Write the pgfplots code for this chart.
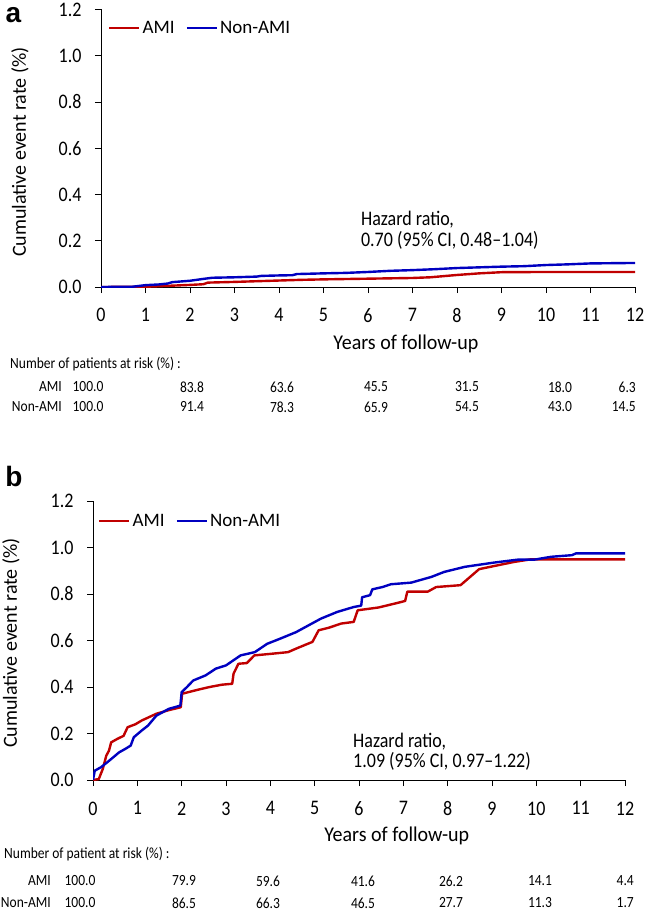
\documentclass[border=0pt]{standalone}
\usepackage{fontspec}
\setmainfont{Carlito}
\newfontfamily\panelfont{Liberation Sans}
\usepackage{pgfplots}
\pgfplotsset{compat=1.18}
\definecolor{amired}{RGB}{192,0,0}
\definecolor{nonblue}{RGB}{0,0,192}

\pgfplotsset{
  km/.style={
    scale only axis,
    xmin=0, xmax=12, ymin=0, ymax=1.2,
    axis x line*=bottom, axis y line*=left,
    xtick={0,1,2,3,4,5,6,7,8,9,10,11,12},
    ytick={0,0.2,0.4,0.6,0.8,1.0,1.2},
    yticklabel style={/pgf/number format/fixed, /pgf/number format/fixed zerofill,
      /pgf/number format/precision=1, xshift=-10pt},
    xticklabel style={yshift=-10pt},
    /pgf/number format/assume math mode=true,
    tick align=outside, major tick length=6pt,
    tick style={black, line width=0.8pt},
    axis line style={black, line width=0.9pt},
    tick label style={font=\fontsize{18}{18}\selectfont, yscale=1.15},
    label style={font=\fontsize{20}{20}\selectfont},
    legend style={draw=none, fill=none, inner sep=0pt, legend columns=-1,
      font=\fontsize{19}{19}\selectfont, anchor=west},
    legend image code/.code={\draw[#1] (0pt,0pt) -- (30pt,0pt);},
    every axis plot/.append style={line width=2.4pt, line join=round},
  }
}
\newcommand{\tabfont}{\fontsize{13.5}{13.5}\selectfont}

\begin{document}
\begin{tikzpicture}
\useasboundingbox (0pt,0pt) rectangle (645pt,-912pt);

% ---------- panel a ----------
\node[font=\panelfont\bfseries\fontsize{28}{28}\selectfont] at (13.5pt,-15pt) {a};
\begin{axis}[km,
    at={(101pt,-287pt)}, anchor=south west,
    width=534pt, height=277.5pt,
    xlabel={Years of follow-up},
    ylabel={Cumulative event rate (\%)},
    xlabel style={at={(axis description cs:0.571,-0.205)}, anchor=center, yscale=1.05},
    ylabel style={at={(axis description cs:-0.152,0.486)}, anchor=center, rotate=0},
    legend style={at={(axis cs:0.157,1.12)}},
  ]
  \addplot[amired] coordinates {
    (0,0) (1,0.001) (1.5,0.005) (2,0.009) (2.3,0.012) (2.4,0.019) (3,0.022)
    (3.5,0.025) (4,0.028) (4.5,0.031) (5,0.033) (6,0.036) (7,0.039) (7.4,0.042)
    (8,0.052) (8.5,0.059) (9,0.064) (10,0.065) (12,0.065)};
  \addlegendentry{AMI\hspace*{9pt}\null}
  \addplot[nonblue] coordinates {
    (0,0) (0.7,0.001) (1,0.008) (1.3,0.011) (1.5,0.015) (1.6,0.021) (2,0.027)
    (2.3,0.035) (2.5,0.040) (3,0.042) (3.5,0.045) (3.6,0.048) (4,0.050) (4.3,0.051)
    (4.4,0.056) (5,0.059) (5.5,0.061) (6,0.065) (6.5,0.070) (7,0.073) (7.5,0.077)
    (8,0.082) (8.5,0.085) (9,0.088) (9.5,0.090) (10,0.095) (10.5,0.098) (11,0.102)
    (12,0.104)};
  \addlegendentry{Non-AMI}
  \node[anchor=west, align=left, inner sep=0pt, yscale=1.15,
        font=\fontsize{18}{18.3}\selectfont]
    at (axis cs:5.84,0.244) {Hazard ratio,\\0.70 (95\% CI, 0.48--1.04)};
\end{axis}

\begin{scope}[every node/.style={font=\tabfont, inner sep=0pt, yscale=1.15}]
  \node[anchor=west] at (10pt,-364pt) {Number of patients at risk (\%) :};
  \node[anchor=east] at (62pt,-387pt) {AMI};
  \node[anchor=east] at (62pt,-407pt) {Non-AMI};
  \foreach \x/\a/\b in {88/100.0/100.0, 192/83.8/91.4, 282/63.6/78.3,
      376/45.5/65.9, 467/31.5/54.5, 560/18.0/43.0} {
    \node at (\x pt,-387pt) {\a};
    \node at (\x pt,-407pt) {\b};
  }
  \node[anchor=east] at (636pt,-387pt) {6.3};
  \node[anchor=east] at (636pt,-407pt) {14.5};
\end{scope}

% ---------- panel b ----------
\node[font=\panelfont\bfseries\fontsize{28}{28}\selectfont] at (14pt,-476pt) {b};
\begin{axis}[km,
    at={(93pt,-780pt)}, anchor=south west,
    width=532pt, height=279pt,
    xlabel={Years of follow-up},
    ylabel={Cumulative event rate (\%)},
    xlabel style={at={(axis description cs:0.571,-0.2007)}, anchor=center, yscale=1.05},
    ylabel style={at={(axis description cs:-0.154,0.491)}, anchor=center, rotate=0},
    legend style={at={(axis cs:0.113,1.114)}},
  ]
  \addplot[amired] coordinates {
    (0,0) (0.13,0.004) (0.22,0.047) (0.30,0.105) (0.36,0.126) (0.41,0.162)
    (0.55,0.177) (0.69,0.190) (0.78,0.227) (0.96,0.240) (1.10,0.256) (1.43,0.285)
    (1.70,0.300) (1.98,0.313) (2.01,0.371) (2.36,0.388) (2.63,0.400) (2.91,0.410)
    (3.14,0.414) (3.17,0.457) (3.28,0.500) (3.47,0.503) (3.64,0.536) (4.03,0.543)
    (4.40,0.550) (4.58,0.565) (4.77,0.580) (4.95,0.594) (5.09,0.644) (5.32,0.655)
    (5.60,0.673) (5.88,0.680) (5.97,0.730) (6.44,0.742) (6.81,0.759) (7.04,0.770)
    (7.09,0.810) (7.55,0.810) (7.74,0.830) (8.29,0.838) (8.71,0.907) (9.04,0.920)
    (9.50,0.938) (9.87,0.949) (12,0.949)};
  \addlegendentry{AMI\hspace*{9pt}\null}
  \addplot[nonblue] coordinates {
    (0,0) (0.04,0.040) (0.18,0.055) (0.32,0.076) (0.59,0.119) (0.73,0.134)
    (0.85,0.148) (0.92,0.184) (1.10,0.213) (1.24,0.234) (1.43,0.277) (1.71,0.306)
    (1.97,0.320) (2.00,0.378) (2.12,0.400) (2.26,0.428) (2.54,0.450) (2.77,0.479)
    (3.00,0.493) (3.33,0.536) (3.65,0.550) (3.93,0.586) (4.21,0.607) (4.58,0.636)
    (4.86,0.665) (5.14,0.694) (5.51,0.723) (5.88,0.744) (6.05,0.750) (6.07,0.786)
    (6.25,0.795) (6.30,0.820) (6.53,0.830) (6.72,0.842) (7.18,0.849) (7.64,0.874)
    (7.92,0.895) (8.39,0.917) (9.04,0.935) (9.59,0.948) (9.96,0.948) (10.33,0.960)
    (10.80,0.967) (10.90,0.975) (12,0.975)};
  \addlegendentry{Non-AMI}
  \node[anchor=west, align=left, inner sep=0pt, yscale=1.15,
        font=\fontsize{18}{17.4}\selectfont]
    at (axis cs:5.865,0.120) {Hazard ratio,\\1.09 (95\% CI, 0.97--1.22)};
\end{axis}

\begin{scope}[every node/.style={font=\tabfont, inner sep=0pt, yscale=1.15}]
  \node[anchor=west] at (4pt,-854pt) {Number of patient at risk (\%) :};
  \node[anchor=east] at (51pt,-881pt) {AMI};
  \node[anchor=east] at (51pt,-903pt) {Non-AMI};
  \foreach \x/\a/\b in {80/100.0/100.0, 184/79.9/86.5, 268/59.6/66.3,
      363/41.6/46.5, 451/26.2/27.7, 540/14.1/11.3} {
    \node at (\x pt,-881pt) {\a};
    \node at (\x pt,-903pt) {\b};
  }
  \node[anchor=east] at (634pt,-881pt) {4.4};
  \node[anchor=east] at (634pt,-903pt) {1.7};
\end{scope}
\end{tikzpicture}
\end{document}
